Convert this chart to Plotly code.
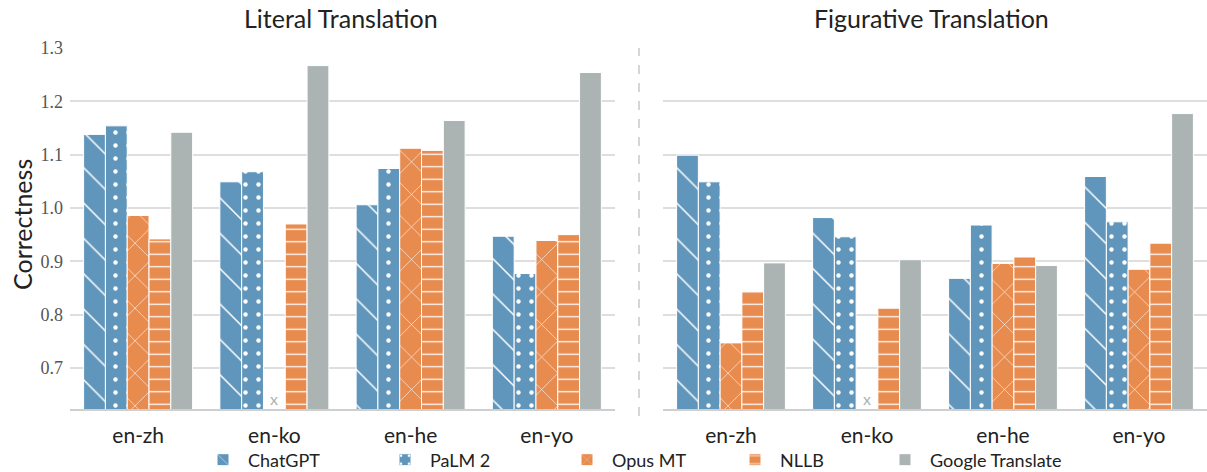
import plotly.graph_objects as go

categories = ["en-zh", "en-ko", "en-he", "en-yo"]
systems = ["ChatGPT", "PaLM 2", "Opus MT", "NLLB", "Google Translate"]

literal = {
    "ChatGPT": [1.138, 1.049, 1.006, 0.947],
    "PaLM 2": [1.154, 1.068, 1.074, 0.877],
    "Opus MT": [0.986, None, 1.112, 0.939],
    "NLLB": [0.942, 0.970, 1.108, 0.950],
    "Google Translate": [1.142, 1.267, 1.164, 1.254],
}
figurative = {
    "ChatGPT": [1.099, 0.982, 0.868, 1.059],
    "PaLM 2": [1.049, 0.946, 0.968, 0.974],
    "Opus MT": [0.747, None, 0.896, 0.885],
    "NLLB": [0.843, 0.812, 0.908, 0.934],
    "Google Translate": [0.897, 0.903, 0.892, 1.177],
}
yticks = [0.7, 0.8, 0.9, 1.0, 1.1, 1.2, 1.3]

BLUE = "#6096bb"
ORANGE = "#e88b4f"
GRAY = "#abb3b3"
colors = {"ChatGPT": BLUE, "PaLM 2": BLUE, "Opus MT": ORANGE, "NLLB": ORANGE, "Google Translate": GRAY}
shapes = {"ChatGPT": ("\\", 25, 0.06), "PaLM 2": (".", 13, 0.09), "Opus MT": ("x", 23, 0.05),
          "NLLB": ("-", 12.5, 0.1), "Google Translate": ("", 10, 0.1)}

W, H = 1207, 472
TOP, BOT = 48, 409
L0, L1 = 70, 615
R0, R1 = 663, W
plot_h = BOT - TOP


def py(pix):  # pixel y -> paper y
    return (BOT - pix) / plot_h


SANS = "Lato"
legend_names = ["legend", "legend2", "legend3", "legend4", "legend5"]
legend_text_x = [250, 432, 614, 782, 932]

fig = go.Figure()
for panel, data in (("x", literal), ("x2", figurative)):
    for i, s in enumerate(systems):
        shp, sz, sol = shapes[s]
        fig.add_trace(go.Bar(
            x=categories, y=data[s], name=s,
            xaxis=panel, yaxis="y" if panel == "x" else "y2",
            showlegend=(panel == "x"), legendgroup=s, legend=legend_names[i],
            marker=dict(color=colors[s], line=dict(color="white", width=1),
                        pattern=dict(shape=shp, fgcolor="white", bgcolor=colors[s],
                                     size=sz, solidity=sol, fillmode="replace")),
        ))

yr = [0.623, 1.30]
axis_common = dict(showgrid=False, showline=True, linecolor="#cfcfcf", linewidth=1.5,
                   ticks="", ticklabelstandoff=7,
                   tickfont=dict(family=SANS, size=21, color="#222"))
yaxis_common = dict(range=yr, tickvals=yticks, ticktext=[f"{v:.1f}" for v in yticks],
                    showgrid=True, gridcolor="#dedede", gridwidth=1.5, zeroline=False,
                    showline=False, ticks="", automargin=False)

legend_layout = {}
for name, tx in zip(legend_names, legend_text_x):
    legend_layout[name] = dict(orientation="h", xref="container", yref="container",
                               x=(tx - 52) / W, xanchor="left", y=(H - 460) / H,
                               yanchor="middle", font=dict(family=SANS, size=18, color="#222"),
                               itemwidth=40, bgcolor="rgba(0,0,0,0)")

fig.update_layout(
    width=W, height=H,
    margin=dict(l=0, r=0, t=TOP, b=H - BOT),
    paper_bgcolor="white", plot_bgcolor="white",
    barmode="group", bargap=0.2, bargroupgap=0,
    xaxis=dict(domain=[L0 / W, L1 / W], automargin=False, **axis_common),
    xaxis2=dict(domain=[R0 / W, R1 / W], automargin=False, **axis_common),
    yaxis=dict(anchor="x", ticklabelstandoff=6,
               tickfont=dict(family="Liberation Serif", size=18, color="#555"), **yaxis_common),
    yaxis2=dict(anchor="x2", showticklabels=False, **yaxis_common),
    annotations=[
        dict(text="Literal Translation", x=(70 + 612) / 2 / W, y=py(18), xref="paper", yref="paper",
             xanchor="center", yanchor="middle", showarrow=False,
             font=dict(family=SANS, size=25, color="#222")),
        dict(text="Figurative Translation", x=931 / W, y=py(18), xref="paper", yref="paper",
             xanchor="center", yanchor="middle", showarrow=False,
             font=dict(family=SANS, size=25, color="#222")),
        dict(text="Correctness", x=22 / W, y=py(225), xref="paper", yref="paper", textangle=-90,
             xanchor="center", yanchor="middle", showarrow=False,
             font=dict(family=SANS, size=25, color="#222")),
        dict(text="x", x="en-ko", y=0.642, xref="x", yref="y", showarrow=False,
             font=dict(family=SANS, size=16, color=GRAY)),
        dict(text="x", x="en-ko", y=0.642, xref="x2", yref="y2", showarrow=False,
             font=dict(family=SANS, size=16, color=GRAY)),
    ],
    shapes=[dict(type="line", xref="paper", yref="paper", x0=639 / W, x1=639 / W,
                 y0=py(416), y1=py(48), line=dict(color="#b5bfbf", width=1.2, dash="dash"))],
    **legend_layout,
)

fig.write_html("out.html", config={"displayModeBar": False},
               post_script="document.body.style.margin='0px';")
